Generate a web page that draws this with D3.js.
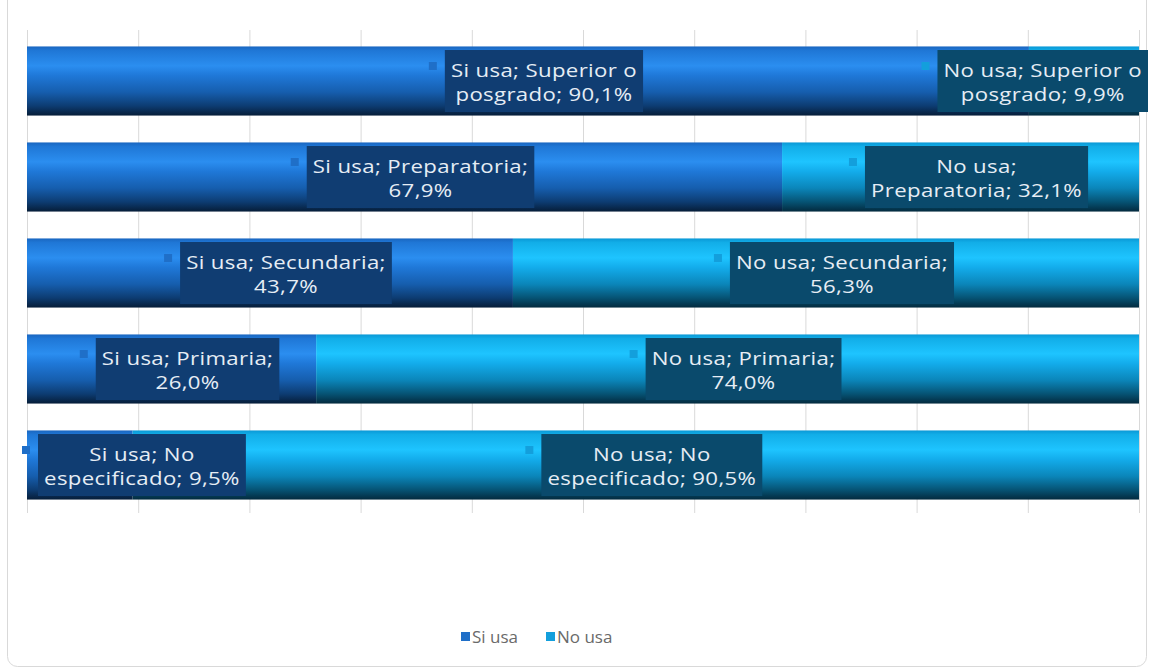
<!DOCTYPE html>
<html>
<head>
<meta charset="utf-8">
<script src="https://cdn.jsdelivr.net/npm/d3@7"></script>
<style>
  html, body { margin: 0; padding: 0; background: #ffffff; }
  svg { display: block; font-family: "Open Sans", Lato, sans-serif; }
</style>
</head>
<body>
<svg id="chart" width="1149" height="669"></svg>
<script>
// Education level (top to bottom) and share using / not using, in percent
const categories = ["Superior o posgrado", "Preparatoria", "Secundaria", "Primaria", "No especificado"];
const siUsa  = [90.1, 67.9, 43.7, 26.0, 9.5];
const noUsa  = [9.9, 32.1, 56.3, 74.0, 90.5];
const seriesNames = ["Si usa", "No usa"];
const xTicks = [0, 10, 20, 30, 40, 50, 60, 70, 80, 90, 100];
// words on the first line of each data label, per series and category
const firstLineWordsSi = [4, 3, 3, 3, 3];
const firstLineWordsNo = [4, 2, 3, 3, 3];

const svg = d3.select("#chart");

// frame
svg.append("rect")
  .attr("x", 7.5).attr("y", -20).attr("width", 1139).attr("height", 686.5)
  .attr("rx", 10).attr("fill", "#ffffff").attr("stroke", "#d9d9d9").attr("stroke-width", 1);

const x = d3.scaleLinear().domain([0, 100]).range([27, 1139]);
const y = d3.scaleBand().domain(categories).range([33, 513]).paddingInner(0.28).paddingOuter(0.14);

// gradients for the bevelled bars
const defs = svg.append("defs");
const gradStops = {
  "Si usa": [[0, "#1a66c0"], [0.06, "#1f77d6"], [0.28, "#2b8ef0"], [0.42, "#1f78d8"], [0.66, "#165eae"], [0.86, "#0d3c72"], [1, "#061d38"]],
  "No usa": [[0, "#0a98d6"], [0.06, "#12aee8"], [0.28, "#1ec4ff"], [0.42, "#13aceb"], [0.66, "#0b86ba"], [0.86, "#065374"], [1, "#032a3e"]]
};
seriesNames.forEach((s, i) => {
  const g = defs.append("linearGradient").attr("id", "grad" + i)
    .attr("x1", 0).attr("y1", 0).attr("x2", 0).attr("y2", 1);
  gradStops[s].forEach(([o, c]) => g.append("stop").attr("offset", o).attr("stop-color", c));
});

const colors = { "Si usa": "#1f6fc8", "No usa": "#139fdc" };
const boxColors = { "Si usa": "#103d72", "No usa": "#0a4a6c" };

// gridlines
svg.append("g")
  .attr("transform", "translate(0,513)")
  .call(d3.axisBottom(x).tickValues(xTicks).tickSize(-483).tickFormat(""))
  .call(g => g.select(".domain").remove())
  .call(g => g.selectAll("line").attr("stroke", "#d9d9d9").attr("stroke-width", 1));

// stacked rows
const rows = categories.map((c, i) => ({ cat: c, vals: [siUsa[i], noUsa[i]], words: [firstLineWordsSi[i], firstLineWordsNo[i]] }));
const segs = [];
rows.forEach(r => {
  let acc = 0;
  r.vals.forEach((v, k) => {
    segs.push({ cat: r.cat, series: seriesNames[k], k, v, x0: acc, x1: acc + v, words: r.words[k] });
    acc += v;
  });
});

svg.append("g").selectAll("rect").data(segs).join("rect")
  .attr("x", d => x(d.x0))
  .attr("y", d => y(d.cat))
  .attr("width", d => x(d.x1) - x(d.x0))
  .attr("height", y.bandwidth())
  .attr("fill", d => "url(#grad" + d.k + ")");

// data labels: series; category; value with a legend key
const fmt = v => d3.format(".1f")(v).replace(".", ",") + "%";
const labelG = svg.append("g");
const sx = 1.2; // wide label lettering
segs.forEach(d => {
  const words = `${d.series}; ${d.cat}; ${fmt(d.v)}`.split(" ");
  const lines = [words.slice(0, d.words).join(" "), words.slice(d.words).join(" ")];
  const g = labelG.append("g");
  const cy = y(d.cat) + y.bandwidth() / 2;
  const box = g.append("rect").attr("fill", boxColors[d.series]);
  const tg = g.append("g");
  const texts = lines.map((t, j) => tg.append("text")
    .attr("text-anchor", "middle")
    .attr("dominant-baseline", "central")
    .attr("y", j === 0 ? -11 : 13)
    .attr("font-size", 18.5)
    .attr("letter-spacing", 0.3)
    .attr("fill", "#e6edf5")
    .text(t));
  const tw = d3.max(texts, t => t.node().getComputedTextLength()) * sx;
  const bw = tw + 12, bh = 62;
  let cx = (x(d.x0) + x(d.x1)) / 2 + 16;
  let left = cx - bw / 2;
  if (left < 38) left = 38;
  if (left + bw > 1148) left = 1148 - bw;
  cx = left + bw / 2;
  tg.attr("transform", `translate(${cx},${cy}) scale(${sx},1)`);
  box.attr("x", left).attr("y", cy - bh / 2).attr("width", bw).attr("height", bh);
  g.append("rect")
    .attr("x", left - 16).attr("y", cy - 19).attr("width", 8).attr("height", 8)
    .attr("fill", colors[d.series]);
});

// legend
const legend = svg.append("g").attr("transform", "translate(0,636)");
const legItems = [{ s: "Si usa", x: 461 }, { s: "No usa", x: 546 }];
legItems.forEach(it => {
  legend.append("rect").attr("x", it.x).attr("y", -4).attr("width", 9).attr("height", 9).attr("fill", colors[it.s]);
  legend.append("text").attr("x", it.x + 11).attr("y", 0)
    .attr("dominant-baseline", "central").attr("font-size", 17).attr("fill", "#6a6a6a").text(it.s);
});
</script>
</body>
</html>
